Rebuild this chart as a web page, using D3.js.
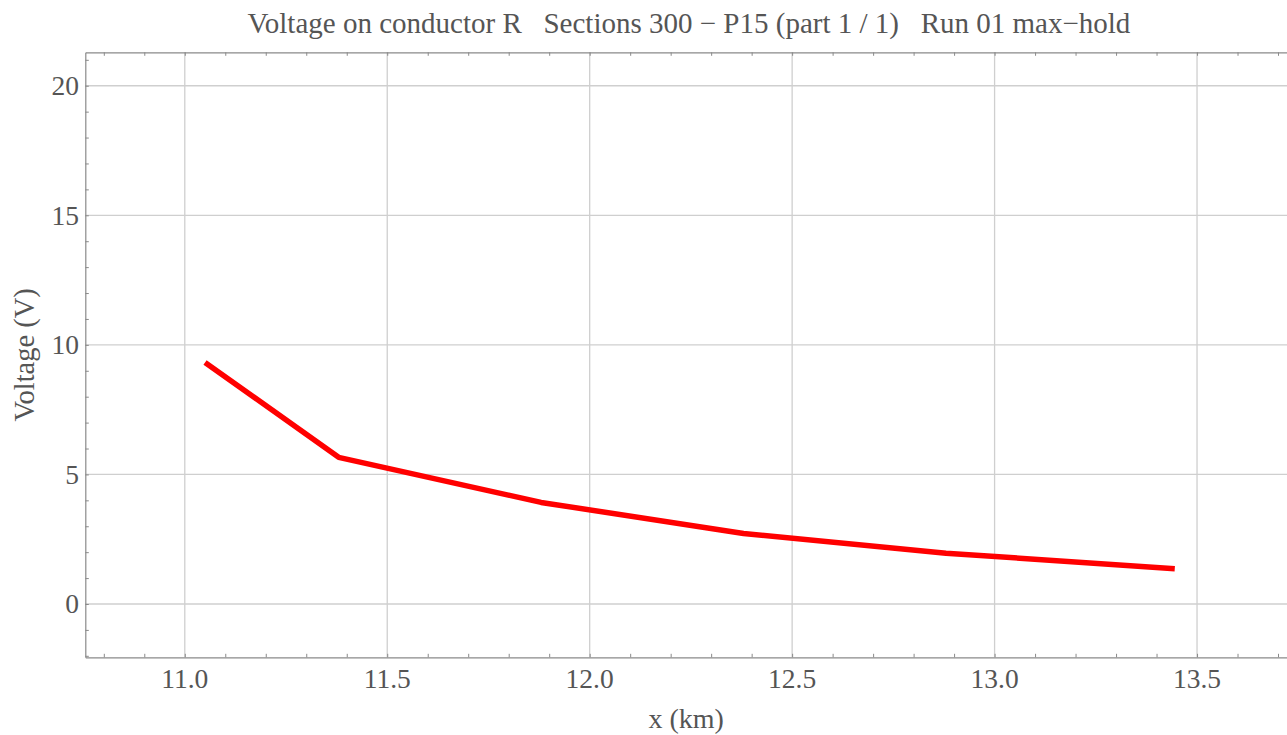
<!DOCTYPE html>
<html>
<head>
<meta charset="utf-8">
<script src="https://cdn.jsdelivr.net/npm/d3@7"></script>
<style>
  html, body { margin: 0; padding: 0; background: #fff; }
  svg { display: block; }
  text { font-family: "Liberation Serif", "Times New Roman", serif; fill: #555; }
</style>
</head>
<body>
<svg id="chart" width="1287" height="735"></svg>
<script>
// Section end positions along the line (km) and the max-hold voltage on conductor R (V)
const positionsKm = [11.05, 11.38, 11.88, 12.38, 12.88, 13.445];
const voltages    = [9.32, 5.66, 3.92, 2.72, 1.96, 1.36];

const xTickValues = [11.0, 11.5, 12.0, 12.5, 13.0, 13.5];
const yTickValues = [0, 5, 10, 15, 20];

const titleText = "Voltage on conductor R   Sections 300 \u2212 P15 (part 1 / 1)   Run 01 max\u2212hold";
const xLabel = "x (km)";
const yLabel = "Voltage (V)";

const W = 1287, H = 735;
const plot = { left: 85.3, right: 1287, top: 52.3, bottom: 657.3 };

const svg = d3.select("#chart");

const x = d3.scaleLinear().domain([10.7543, 13.7222]).range([plot.left, plot.right]);
const y = d3.scaleLinear().domain([-2.057, 21.29]).range([plot.bottom, plot.top]);

const xMinor = d3.range(108, 138).map(v => v / 10).filter(v => v >= 10.76 && v <= 13.72);
const yMinor = d3.range(-2, 22).filter(v => v >= -2.05 && v <= 21.29);

// grid lines at the labelled ticks
const grid = svg.append("g").attr("stroke", "#cfcfcf").attr("stroke-width", 1.3);
grid.selectAll("line.gx").data(xTickValues).join("line")
  .attr("x1", d => x(d)).attr("x2", d => x(d))
  .attr("y1", plot.top).attr("y2", plot.bottom);
grid.selectAll("line.gy").data(yTickValues).join("line")
  .attr("x1", plot.left).attr("x2", plot.right)
  .attr("y1", d => y(d)).attr("y2", d => y(d));

// frame axes with inward ticks
function styleAxis(g) {
  g.select(".domain").attr("stroke", "#8a8a8a").attr("stroke-width", 1.2);
  g.selectAll(".tick line").attr("stroke", "#8a8a8a").attr("stroke-width", 1);
  g.selectAll(".tick text").remove();
}
svg.append("g").attr("transform", `translate(0,${plot.bottom})`)
  .call(d3.axisBottom(x).tickValues(xMinor).tickSize(-3.5).tickSizeOuter(0)).call(styleAxis);
svg.append("g").attr("transform", `translate(0,${plot.top})`)
  .call(d3.axisTop(x).tickValues(xMinor).tickSize(-3.5).tickSizeOuter(0)).call(styleAxis);
svg.append("g").attr("transform", `translate(${plot.left},0)`)
  .call(d3.axisLeft(y).tickValues(yMinor).tickSize(-3.5).tickSizeOuter(0)).call(styleAxis);

// tick labels
svg.append("g").selectAll("text").data(xTickValues).join("text")
  .attr("x", d => x(d)).attr("y", 688)
  .attr("text-anchor", "middle").attr("font-size", 27.5)
  .text(d => d3.format(".1f")(d));
svg.append("g").selectAll("text").data(yTickValues).join("text")
  .attr("x", 79).attr("y", d => y(d) + 9.5)
  .attr("text-anchor", "end").attr("font-size", 27.5)
  .text(d => d3.format("d")(d));

// the voltage curve
const line = d3.line().x((d, i) => x(positionsKm[i])).y(d => y(d));
svg.append("path").datum(voltages)
  .attr("d", line)
  .attr("fill", "none").attr("stroke", "#ff0000")
  .attr("stroke-width", 5.5).attr("stroke-linejoin", "round").attr("stroke-linecap", "butt");

// labels
svg.append("text").attr("x", 689).attr("y", 33)
  .attr("text-anchor", "middle").attr("font-size", 29)
  .style("white-space", "pre").text(titleText);
svg.append("text").attr("x", (plot.left + plot.right) / 2).attr("y", 728)
  .attr("text-anchor", "middle").attr("font-size", 28).text(xLabel);
svg.append("text")
  .attr("transform", `translate(34,${(plot.top + plot.bottom) / 2}) rotate(-90)`)
  .attr("text-anchor", "middle").attr("font-size", 28.5).text(yLabel);
</script>
</body>
</html>
